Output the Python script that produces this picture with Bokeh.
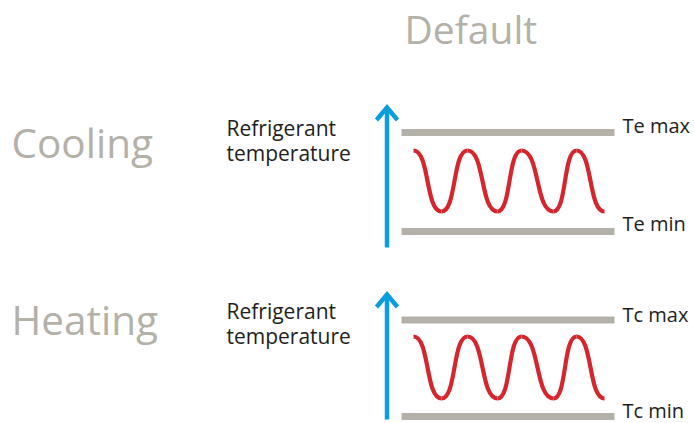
from bokeh.plotting import figure
from bokeh.models import Range1d
from bokeh.core.properties import value
from bokeh.embed import file_html
from bokeh.resources import INLINE

# ---------------- data (picture pixel units) ----------------
title_text = "Default"
modes = ["Cooling", "Heating"]
mode_baseline = [163, 340]
axis_label_lines = ["Refrigerant", "temperature"]
axis_label_baseline = [[138, 163], [321, 346]]
limit_labels = [["Te max", "Te min"], ["Tc max", "Tc min"]]
limit_level = [[132, 231], [319.5, 416]]
limit_label_baseline = [[135, 233], [324, 420]]
arrow_bottom = [247, 419]
arrow_top = [107, 294]
wave_x = [413, 441, 467, 497, 521, 553, 576, 604]
wave_peak = [150, 336]
wave_trough = [211, 398]

# ---------------- style ----------------
GRAY_TEXT = "#b4b1a8"
GRAY_BAR = "#b4b1a8"
BLUE = "#0a9ee0"
RED = "#d5262e"
DARK = "#1e1e1e"
FONT = value("Open Sans")
BASE_SHIFT = 0.52  # text anchor -> baseline, in font sizes

ARROW_X = 386.5
BAR_X0, BAR_X1 = 401, 614
LABEL_X = 226
LIMIT_X = 622
MODE_X = 11
TITLE_X = 404

p = figure(width=694, height=423, output_backend="svg", toolbar_location=None,
           x_range=Range1d(0, 694), y_range=Range1d(423, 0), min_border=0)
p.axis.visible = False
p.grid.visible = False
p.outline_line_color = None
p.background_fill_color = "white"
p.border_fill_color = "white"


def label(xs, ys, texts, size, color):
    p.text(x=xs, y=ys, text=texts, text_font=FONT, text_font_size=f"{size}px",
           text_color=color, text_baseline="alphabetic", text_align="left",
           y_offset=-BASE_SHIFT * size)


label([TITLE_X], [48], [title_text], 39, GRAY_TEXT)

for i in range(len(modes)):
    label([MODE_X], [mode_baseline[i]], [modes[i]], 40.5, GRAY_TEXT)
    label([LABEL_X, LABEL_X], axis_label_baseline[i], axis_label_lines, 21, DARK)
    # gray limit bars
    p.segment(x0=[BAR_X0, BAR_X0], x1=[BAR_X1, BAR_X1], y0=limit_level[i], y1=limit_level[i],
              line_color=GRAY_BAR, line_width=7, line_cap="butt")
    label([LIMIT_X, LIMIT_X], limit_label_baseline[i], limit_labels[i], 20, DARK)
    # blue arrow
    p.segment(x0=[ARROW_X], x1=[ARROW_X], y0=[arrow_bottom[i]], y1=[arrow_top[i] + 1],
              line_color=BLUE, line_width=4.5, line_cap="butt")
    p.line(x=[ARROW_X - 10.5, ARROW_X, ARROW_X + 10.5],
           y=[arrow_top[i] + 12.5, arrow_top[i], arrow_top[i] + 12.5],
           line_color=BLUE, line_width=4.5, line_join="miter", line_cap="butt")
    # red wave (smooth cubic segments between the read extremes)
    ys = [wave_peak[i] if k % 2 == 0 else wave_trough[i] for k in range(len(wave_x))]
    x0 = wave_x[:-1]; x1 = wave_x[1:]
    y0 = ys[:-1]; y1 = ys[1:]
    k = 0.58
    cx0 = [a + k * (b - a) for a, b in zip(x0, x1)]
    cx1 = [b - k * (b - a) for a, b in zip(x0, x1)]
    p.bezier(x0=x0, y0=y0, x1=x1, y1=y1, cx0=cx0, cy0=y0, cx1=cx1, cy1=y1,
             line_color=RED, line_width=4.2, line_cap="butt")

open("out.html", "w").write(file_html(p, INLINE))
